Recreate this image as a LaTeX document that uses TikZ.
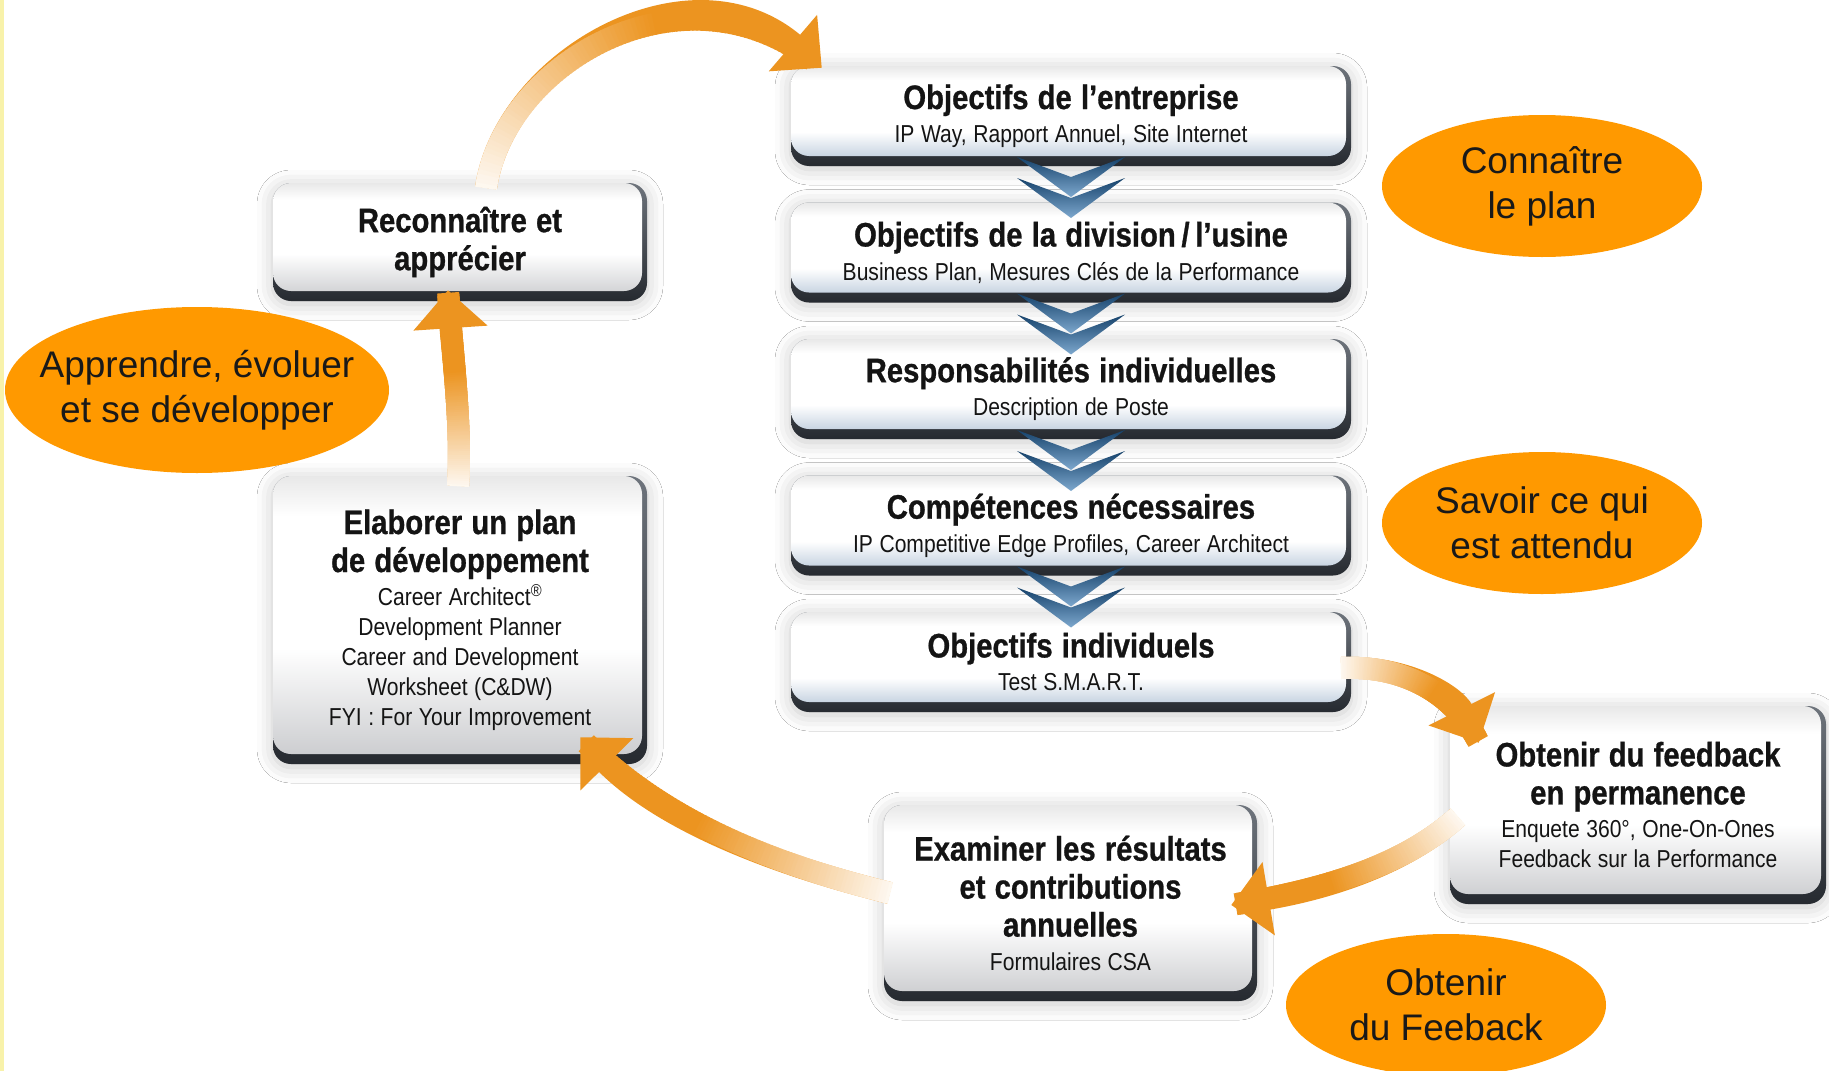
\documentclass[tikz,border=0pt]{standalone}
\usepackage{fontspec}
\setmainfont{Liberation Sans}
\newfontfamily\condfont[FakeStretch=0.86, BoldFeatures={FakeBold=0.8}]{Liberation Sans}
\usepackage{tikz}
\usetikzlibrary{arrows.meta,calc,shapes.geometric,shadows.blur,decorations.markings}
\setlength{\parindent}{0pt}

\definecolor{arroworange}{RGB}{236,148,32}
\definecolor{ovalorange}{RGB}{255,153,0}
\definecolor{rimdark}{RGB}{38,42,48}
\definecolor{rimlight}{RGB}{110,116,124}
\definecolor{facegray}{RGB}{200,201,204}
\definecolor{faceblue}{RGB}{178,195,214}
\definecolor{chevdark}{RGB}{22,66,107}
\definecolor{chevlight}{RGB}{125,168,206}
\definecolor{stripyellow}{RGB}{248,242,170}

\pgfdeclareverticalshading{planface}{100bp}{color(0bp)=(faceblue); color(25bp)=(faceblue);
  color(42bp)=(white); color(68bp)=(white); color(75bp)=(black!9); color(100bp)=(black!9)}
\pgfdeclareverticalshading{cycleface}{100bp}{color(0bp)=(facegray); color(25bp)=(facegray);
  color(45bp)=(white); color(68bp)=(white); color(75bp)=(black!9); color(100bp)=(black!9)}

\newcommand{\boxhead}[1]{{\condfont\bfseries\fontsize{34}{38}\selectfont\spaceskip=0.27em #1\par}}
\newcommand{\boxsub}[1]{{\condfont\fontsize{24.5}{30}\selectfont\spaceskip=0.27em\vspace{3.5pt}#1\par}}

\tikzset{stepbox/.style={rectangle, rounded corners=18pt, inner sep=0pt, align=center,
  top color=rimlight, bottom color=rimdark, text=black!92,
  blur shadow={shadow xshift=0pt, shadow yshift=-3pt, shadow blur radius=16pt, shadow opacity=22},
  path picture={\shade[rounded corners=18pt, shading=#1]
    (path picture bounding box.north west) rectangle ([xshift=-5pt,yshift=10pt]path picture bounding box.south east);}},
  stepbox/.default=cycleface}
\tikzset{planbox/.style={stepbox=planface, minimum width=560pt, minimum height=100pt, text width=540pt}}
\tikzset{cyclebox/.style={stepbox=cycleface, minimum width=374pt, text width=360pt}}
\tikzset{goaloval/.style={ellipse, fill=ovalorange, minimum width=320pt, minimum height=142pt,
  inner sep=0pt, align=center, font=\fontsize{37}{45}\selectfont, text=black!90}}
\tikzset{cyclearrow/.style={draw=arroworange, line width=22pt, -{Triangle[width=72pt,length=38pt]},
  postaction={decorate},
  decoration={markings, mark=between positions 0 and 0.96 step 0.01 with {
    \pgfmathtruncatemacro\fadepct{min(100,6+1.6*\pgfkeysvalueof{/pgf/decoration/mark info/sequence number})}
    \fill[arroworange!\fadepct!white] (-0.5pt,-11pt) rectangle (5pt,11pt);}}}}

\begin{document}
\begin{tikzpicture}[x=1pt, y=-1pt]
\useasboundingbox (0,0) rectangle (1829,1071);
\fill[white] (0,0) rectangle (1829,1071);
\fill[stripyellow] (0,0) rectangle (4,1071);

\node[planbox] (obj1) at (1071,116) {\boxhead{Objectifs de l’entreprise}\boxsub{IP Way, Rapport Annuel, Site Internet}};
\node[planbox] (obj2) at (1071,252.5) {\boxhead{Objectifs de la division\,/\,l’usine}\boxsub{Business Plan, Mesures Clés de la Performance}};
\node[planbox] (obj3) at (1071,389) {\boxhead{Responsabilités individuelles}\boxsub{Description de Poste}};
\node[planbox] (obj4) at (1071,525.5) {\boxhead{Compétences nécessaires}\boxsub{IP Competitive Edge Profiles, Career Architect}};
\node[planbox] (obj5) at (1071,662) {\boxhead{Objectifs individuels}\boxsub{Test S.M.A.R.T.}};

\node[cyclebox, minimum height=118pt] (recon) at (460,242) {\boxhead{Reconnaître et\\apprécier}};
\node[cyclebox, minimum height=288pt] (elab) at (460,620) {\boxhead{Elaborer un plan\\de développement}\boxsub{Career Architect\textsuperscript{®}\\Development Planner\\Career and Development\\Worksheet (C\&DW)\\FYI : For Your Improvement}};
\node[cyclebox, minimum width=376pt, minimum height=198pt] (feed) at (1638,805) {\boxhead{Obtenir du feedback\\en permanence}\boxsub{Enquete 360°, One-On-Ones\\Feedback sur la Performance}};
\node[cyclebox, minimum width=373pt, minimum height=196pt] (exam) at (1070.5,903) {\boxhead{Examiner les résultats\\et contributions\\annuelles}\boxsub{Formulaires CSA}};

\foreach \y in {157,293.5,430,566.5}{
  \foreach \dy in {0,21}{
    \shade[top color=chevdark, bottom color=chevlight] (1017,\y+\dy) -- (1071,\y+\dy+20) -- (1125,\y+\dy) -- (1071,\y+\dy+40) -- cycle;
  }
}

\draw[cyclearrow] ($(recon.north)+(26,5)$) .. controls +(19,-128) and +(-132,-113) .. ($(obj1.north west)+(31,2)$);
\draw[cyclearrow] ($(elab.north)+(-2,10)$) .. controls +(4,-60) and +(4,60) .. ($(recon.south)+(-12,-11)$);
\draw[cyclearrow] ($(exam.west)+(6,-10)$) .. controls +(-125,-31) and +(80,81) .. ($(elab.south east)+(-67,-27)$);
\draw[cyclearrow] ($(obj5.east)+(-10,6)$) .. controls +(64,-3) and +(-24,-48) .. ($(feed.north west)+(29,37)$);
\draw[cyclearrow] ($(feed.west)+(8,12)$) .. controls +(-58,51) and +(89,-15) .. ($(exam.east)+(-26,2)$);

\node[goaloval] (know) at (1542,186) {Connaître\\le plan};
\node[goaloval] (expect) at (1542,523) {Savoir ce qui\\est attendu};
\node[goaloval] (getfb) at (1446,1005) {Obtenir\\du Feeback};
\node[goaloval, minimum width=384pt, minimum height=166pt, inner xsep=-40pt] (learn) at (197,390) {Apprendre, évoluer\\et se développer};
\end{tikzpicture}
\end{document}
